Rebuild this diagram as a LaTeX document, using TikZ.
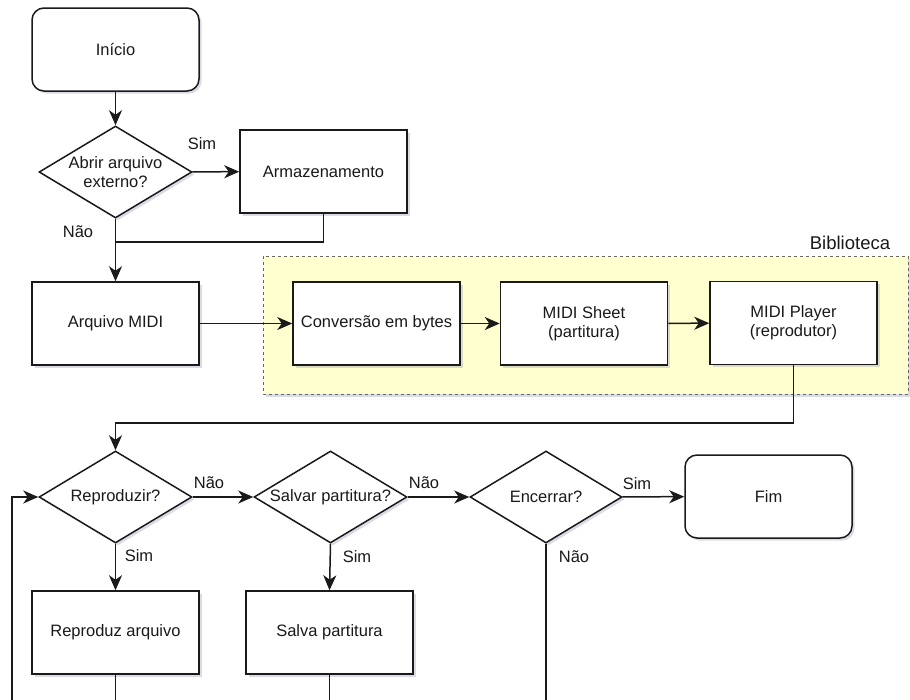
\documentclass[tikz,border=0pt]{standalone}
\usepackage{fontspec}
\setmainfont{Liberation Sans}
\usetikzlibrary{shapes.geometric,arrows.meta,shadows}
\definecolor{lineclr}{HTML}{1A1A1A}
\definecolor{libfill}{HTML}{FFFFCF}
\definecolor{shadowclr}{HTML}{9A9AB8}
\begin{document}
\begin{tikzpicture}[x=1pt,y=-1pt,
  every node/.style={font=\fontsize{16.5}{19}\selectfont, text=lineclr},
  shad/.style={drop shadow={shadow xshift=2.5pt, shadow yshift=-2.5pt, opacity=0.35, fill=shadowclr}},
  procbox/.style={draw=lineclr, line width=1.5pt, fill=white, shad, minimum width=167pt, minimum height=83pt, inner sep=2pt, align=center},
  termbox/.style={procbox, rounded corners=12pt},
  decision/.style={diamond, draw=lineclr, line width=1.5pt, fill=white, shad, minimum width=153pt, minimum height=92pt, inner sep=-14pt, align=center},
  conn/.style={draw=lineclr, line width=1.5pt},
  arr/.style={conn, -{Stealth[length=15pt, width=13pt, inset=4.5pt]}},
  lbl/.style={inner sep=0pt},
]
\useasboundingbox (0,0) rectangle (910,699);
\fill[white] (0,0) rectangle (910,699);

% library container
\draw[draw=gray!80!black, line width=1pt, dashed, fill=libfill, shad] (263,256) rectangle (908,394);
\node[lbl, font=\fontsize{18.5}{21}\selectfont] (biblio) at (850,243) {Biblioteca};

% nodes
\node[termbox] (inicio) at (115.5,49.5) {Início};
\node[decision] (abrir) at (115.5,172) {Abrir arquivo\\externo?};
\node[procbox] (armaz) at (323.5,171.5) {Armazenamento};
\node[procbox] (arqmidi) at (115.5,323.5) {Arquivo MIDI};
\node[procbox] (conv) at (376.5,323.5) {Conversão em bytes};
\node[procbox] (sheet) at (584,323.5) {MIDI Sheet\\(partitura)};
\node[procbox] (player) at (793.5,323) {MIDI Player\\(reprodutor)};
\node[decision] (repro) at (115.5,497) {Reproduzir?};
\node[decision] (salvar) at (330.5,497) {Salvar partitura?};
\node[decision, minimum width=152pt] (encerrar) at (546,497) {Encerrar?};
\node[termbox] (fim) at (768.5,496.5) {Fim};
\node[procbox] (reprarq) at (115.5,632.5) {Reproduz arquivo};
\node[procbox] (salvapart) at (329.5,632.5) {Salva partitura};

% helper coordinates
\coordinate (merge) at (115.5,242);
\coordinate (ret) at (115.5,423);
\coordinate (endA) at (115.5,705);
\coordinate (endB) at (329.5,705);
\coordinate (endC) at (546,705);
\coordinate (loopStart) at (12,705);

% connectors
\draw[arr] (inicio) -- (abrir);
\draw[arr] (abrir) -- (armaz);
\draw[arr] (abrir) -- (arqmidi);
\draw[conn] (armaz.south) |- (merge);
\draw[arr] (arqmidi) -- (conv);
\draw[arr] (conv) -- (sheet);
\draw[arr] (sheet) -- (player);
\draw[arr] (player.south) |- (ret) -- (repro.north);
\draw[arr] (repro) -- (salvar);
\draw[arr] (salvar) -- (encerrar);
\draw[arr] (encerrar) -- (fim);
\draw[arr] (repro) -- (reprarq);
\draw[arr] (salvar.south) -- (salvapart.north);
\draw[conn] (encerrar.south) -- (endC);
\draw[conn] (reprarq.south) -- (endA);
\draw[conn] (salvapart.south) -- (endB);
\draw[arr] (loopStart) |- (repro.west);

% labels
\node[lbl] (l1) at (202,144) {Sim};
\node[lbl] (l2) at (78,232) {Não};
\node[lbl] (l3) at (209,483) {Não};
\node[lbl] (l4) at (424,483) {Não};
\node[lbl] (l5) at (637,484) {Sim};
\node[lbl] (l6) at (139,556) {Sim};
\node[lbl] (l7) at (357,557) {Sim};
\node[lbl] (l8) at (574,557) {Não};
\end{tikzpicture}
\end{document}
